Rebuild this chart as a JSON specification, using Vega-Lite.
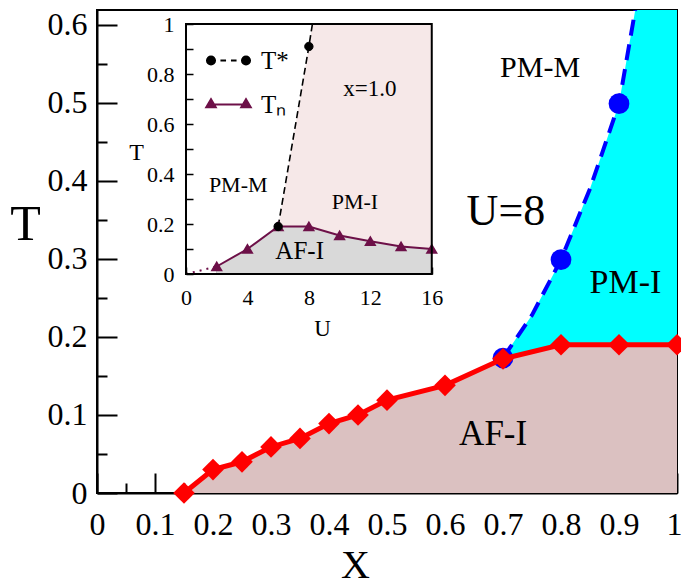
{
  "$schema": "https://vega.github.io/schema/vega-lite/v6.json",
  "width": 580,
  "height": 483,
  "autosize": {"type": "none"},
  "padding": {"left": 97, "top": 10, "right": 4, "bottom": 90},
  "background": "white",
  "config": {
    "view": {"stroke": "black", "strokeWidth": 2},
    "font": "Liberation Serif",
    "axis": {"domainColor": "black", "tickColor": "black", "labelColor": "black", "titleColor": "black", "labelFont": "Liberation Serif", "titleFont": "Liberation Serif", "titleFontWeight": "normal", "grid": false, "labelExpr": "format(datum.value, '~g')"},
    "text": {"font": "Liberation Serif", "color": "black"},
    "legend": {"labelFont": "Liberation Serif", "labelColor": "black"}
  },
  "datasets": {
    "tn_main": [
      {"x": 0.15, "T": 0.0}, {"x": 0.2, "T": 0.03}, {"x": 0.25, "T": 0.04}, {"x": 0.3, "T": 0.059},
      {"x": 0.35, "T": 0.07}, {"x": 0.4, "T": 0.089}, {"x": 0.45, "T": 0.1}, {"x": 0.5, "T": 0.119},
      {"x": 0.6, "T": 0.138}, {"x": 0.7, "T": 0.172}, {"x": 0.8, "T": 0.19}, {"x": 0.9, "T": 0.19}, {"x": 1.0, "T": 0.19}
    ],
    "tstar_main": [{"x": 0.7, "T": 0.173}, {"x": 0.8, "T": 0.299}, {"x": 0.9, "T": 0.499}],
    "tstar_curve": [
      {"x": 0.7, "T": 0.173}, {"x": 0.75, "T": 0.228}, {"x": 0.8, "T": 0.299}, {"x": 0.85, "T": 0.39},
      {"x": 0.9, "T": 0.499}, {"x": 0.928, "T": 0.619}
    ],
    "pmi_main": [
      {"x": 0.7, "T": 0.173}, {"x": 0.75, "T": 0.228}, {"x": 0.8, "T": 0.299}, {"x": 0.85, "T": 0.39},
      {"x": 0.9, "T": 0.499}, {"x": 0.928, "T": 0.619}, {"x": 1.0, "T": 0.619}
    ],
    "tn_inset": [
      {"U": 2, "T": 0.03, "series": "T_N"}, {"U": 4, "T": 0.1, "series": "T_N"}, {"U": 6, "T": 0.19, "series": "T_N"},
      {"U": 8, "T": 0.19, "series": "T_N"}, {"U": 10, "T": 0.154, "series": "T_N"}, {"U": 12, "T": 0.131, "series": "T_N"},
      {"U": 14, "T": 0.11, "series": "T_N"}, {"U": 16, "T": 0.1, "series": "T_N"}
    ],
    "tn_inset_low": [{"U": 0, "T": 0}, {"U": 2, "T": 0.03}],
    "tstar_inset": [{"U": 6, "T": 0.19}, {"U": 8, "T": 0.91}, {"U": 8.23, "T": 1.0}],
    "tstar_inset_pts": [{"U": 6, "T": 0.19, "series": "T*"}, {"U": 8, "T": 0.91, "series": "T*"}],
    "pmi_inset": [{"U": 6, "T": 0.19}, {"U": 8, "T": 0.91}, {"U": 8.23, "T": 1.0}, {"U": 16, "T": 1.0}],
    "frame_inset": [{"U0": 0, "U1": 16, "T0": 0, "T1": 1}]
  },
  "layer": [
    {
      "encoding": {
        "x": {"field": "x", "type": "quantitative", "scale": {"domain": [0, 1], "nice": false, "zero": false}, "axis": null},
        "y": {"field": "T", "type": "quantitative", "scale": {"domain": [0, 0.619], "nice": false, "zero": false}, "axis": null}
      },
      "layer": [
        {
          "data": {"name": "pmi_main"},
          "mark": {"type": "area", "fill": "#00ffff", "clip": true},
          "encoding": {"y2": {"datum": 0}}
        },
        {
          "data": {"name": "tn_main"},
          "mark": {"type": "area", "fill": "#dbc1c1"},
          "encoding": {
            "x": {"field": "x", "type": "quantitative", "scale": {"domain": [0, 1], "nice": false, "zero": false},
              "axis": {"orient": "bottom", "values": [0, 0.1, 0.2, 0.3, 0.4, 0.5, 0.6, 0.7, 0.8, 0.9], "tickSize": -20, "tickWidth": 2, "domainWidth": 2, "labelFontSize": 32, "labelPadding": 36, "labelFlush": false, "labelOverlap": false,
                "title": "X", "titleFontSize": 40, "titleX": 258, "titleY": 52, "titleBaseline": "top", "titleAlign": "center"}},
            "y": {"field": "T", "type": "quantitative", "scale": {"domain": [0, 0.619], "nice": false, "zero": false},
              "axis": {"orient": "left", "values": [0, 0.1, 0.2, 0.3, 0.4, 0.5, 0.6], "tickSize": -20, "tickWidth": 2, "domainWidth": 2, "labelFontSize": 32, "labelPadding": 30, "labelFlush": false, "labelOverlap": false,
                "title": "T", "titleFontSize": 50, "titleAngle": 0, "titleX": -72, "titleY": 214, "titleAlign": "center", "titleBaseline": "middle"}},
            "y2": {"datum": 0}
          }
        },
        {
          "data": {"name": "tstar_curve"},
          "mark": {"type": "line", "stroke": "#0000ff", "strokeWidth": 4, "strokeDash": [16, 9], "clip": true},
          "encoding": {
            "x": {"field": "x", "type": "quantitative", "scale": {"domain": [0, 1], "nice": false, "zero": false},
              "axis": {"orient": "bottom", "values": [0.05, 0.15, 0.25, 0.35, 0.45, 0.55, 0.65, 0.75, 0.85, 0.95], "tickSize": -10, "tickWidth": 2, "domain": false, "labels": false, "title": null}},
            "y": {"field": "T", "type": "quantitative", "scale": {"domain": [0, 0.619], "nice": false, "zero": false},
              "axis": {"orient": "left", "values": [0.05, 0.15, 0.25, 0.35, 0.45, 0.55], "tickSize": -10, "tickWidth": 2, "domain": false, "labels": false, "title": null}}
          }
        },
        {
          "data": {"name": "tstar_main"},
          "mark": {"type": "point", "shape": "circle", "filled": true, "fill": "#0000ff", "opacity": 1, "size": 430},
          "encoding": {
            "x": {"field": "x", "type": "quantitative", "scale": {"domain": [0, 1], "nice": false, "zero": false},
              "axis": {"orient": "bottom", "values": [1], "tickSize": -20, "tickWidth": 2, "domain": false, "labelFontSize": 32, "labelPadding": 36, "labelFlush": false, "labelAlign": "right", "labelOffset": 5, "title": null}}
          }
        },
        {
          "data": {"name": "tn_main"},
          "mark": {"type": "line", "stroke": "#ff0000", "strokeWidth": 5}
        },
        {
          "data": {"name": "tn_main"},
          "mark": {"type": "point", "shape": "diamond", "filled": true, "fill": "#ff0000", "opacity": 1, "size": 470}
        },
        {
          "data": {"values": [{"x": 0.764, "T": 0.545, "label": "PM-M"}]},
          "mark": {"type": "text", "fontSize": 30, "align": "center", "baseline": "middle"},
          "encoding": {"text": {"field": "label"}}
        },
        {
          "data": {"values": [{"x": 0.705, "T": 0.36, "label": "U=8"}]},
          "mark": {"type": "text", "fontSize": 44, "align": "center", "baseline": "middle"},
          "encoding": {"text": {"field": "label"}}
        },
        {
          "data": {"values": [{"x": 0.911, "T": 0.269, "label": "PM-I"}]},
          "mark": {"type": "text", "fontSize": 34, "align": "center", "baseline": "middle"},
          "encoding": {"text": {"field": "label"}}
        },
        {
          "data": {"values": [{"x": 0.683, "T": 0.076, "label": "AF-I"}]},
          "mark": {"type": "text", "fontSize": 35, "align": "center", "baseline": "middle"},
          "encoding": {"text": {"field": "label"}}
        }
      ],
      "resolve": {"axis": {"x": "independent", "y": "independent"}}
    },
    {
      "encoding": {
        "x": {"field": "U", "type": "quantitative", "scale": {"domain": [-5.794, 31.966], "nice": false, "zero": false}, "axis": null},
        "y": {"field": "T", "type": "quantitative", "scale": {"domain": [-0.876, 1.056], "nice": false, "zero": false}, "axis": null}
      },
      "layer": [
        {
          "data": {"name": "pmi_inset"},
          "mark": {"type": "area", "fill": "#f6e8e8"},
          "encoding": {"y2": {"datum": 0}}
        },
        {
          "data": {"name": "tn_inset"},
          "mark": {"type": "area", "fill": "#d9d9d9"},
          "encoding": {
            "x": {"field": "U", "type": "quantitative", "scale": {"domain": [-5.794, 31.966], "nice": false, "zero": false},
              "axis": {"orient": "bottom", "offset": -219, "values": [0, 4, 8, 12, 16], "domain": false, "tickSize": -7, "tickWidth": 1.5, "labelFontSize": 22, "labelPadding": 20, "labelFlush": false, "labelOverlap": false,
                "title": "U", "titleFontSize": 23, "titleX": 225, "titleY": 54, "titleAlign": "center", "titleBaseline": "middle"}},
            "y": {"field": "T", "type": "quantitative", "scale": {"domain": [-0.876, 1.056], "nice": false, "zero": false},
              "axis": {"orient": "left", "offset": -89, "values": [0, 0.2, 0.4, 0.6, 0.8, 1], "domain": false, "tickSize": -7, "tickWidth": 1.5, "labelFontSize": 22, "labelPadding": 19, "labelFlush": false, "labelOverlap": false,
                "title": "T", "titleFontSize": 24, "titleAngle": 0, "titleX": -50, "titleY": 142, "titleAlign": "center", "titleBaseline": "middle"}},
            "y2": {"datum": 0}
          }
        },
        {
          "data": {"name": "tn_inset_low"},
          "mark": {"type": "line", "stroke": "#6d1048", "strokeWidth": 2, "strokeDash": [2, 5]},
          "encoding": {
            "x": {"field": "U", "type": "quantitative", "scale": {"domain": [-5.794, 31.966], "nice": false, "zero": false},
              "axis": {"orient": "bottom", "offset": -219, "values": [2, 6, 10, 14], "domain": false, "tickSize": -7, "tickWidth": 1.5, "labels": false, "title": null}},
            "y": {"field": "T", "type": "quantitative", "scale": {"domain": [-0.876, 1.056], "nice": false, "zero": false},
              "axis": {"orient": "left", "offset": -89, "values": [0.1, 0.3, 0.5, 0.7, 0.9], "domain": false, "tickSize": -7, "tickWidth": 1.5, "labels": false, "title": null}}
          }
        },
        {
          "data": {"name": "tn_inset"},
          "mark": {"type": "line", "stroke": "#6d1048", "strokeWidth": 2}
        },
        {
          "data": {"name": "tstar_inset"},
          "mark": {"type": "line", "stroke": "black", "strokeWidth": 1.6, "strokeDash": [7, 4]}
        },
        {
          "data": {"name": "tn_inset"},
          "mark": {"type": "point", "shape": "triangle-up", "filled": true, "opacity": 1, "size": 80, "stroke": "#6d1048", "strokeWidth": 2},
          "encoding": {
            "color": {"field": "series", "type": "nominal", "scale": {"domain": ["T_N"], "range": ["#6d1048"]},
              "legend": {"orient": "none", "legendX": 113, "legendY": 76, "title": null, "padding": 0, "symbolSize": 1225, "labelFontSize": 25, "labelOffset": 14,
                "labelExpr": "'Tₙ'",
                "symbolType": "M-1,0L1,0M-1.27,0.16L-0.73,0.16L-1,-0.3ZM0.73,0.16L1.27,0.16L1,-0.3Z",
                "symbolStrokeWidth": 2, "symbolStrokeColor": "#6d1048", "symbolFillColor": "#6d1048", "symbolOpacity": 1}}
          }
        },
        {
          "data": {"name": "tstar_inset_pts"},
          "mark": {"type": "point", "shape": "circle", "filled": true, "opacity": 1, "size": 70, "stroke": "black", "strokeWidth": 1},
          "encoding": {
            "color": {"field": "series", "type": "nominal", "scale": {"domain": ["T*"], "range": ["black"]},
              "legend": {"orient": "none", "legendX": 113, "legendY": 32, "title": null, "padding": 0, "symbolSize": 1225, "labelFontSize": 25, "labelOffset": 14,
                "labelExpr": "'T*'",
                "symbolType": "M-1,0L-0.72,0M-0.46,0L-0.14,0M0.14,0L0.46,0M0.72,0L1,0M-1.23,0A0.23,0.23 0 1,0 -0.77,0A0.23,0.23 0 1,0 -1.23,0ZM0.77,0A0.23,0.23 0 1,0 1.23,0A0.23,0.23 0 1,0 0.77,0Z",
                "symbolStrokeWidth": 2, "symbolStrokeColor": "black", "symbolFillColor": "black", "symbolOpacity": 1}}
          }
        },
        {
          "data": {"name": "frame_inset"},
          "mark": {"type": "rect", "fill": null, "fillOpacity": 0, "stroke": "black", "strokeWidth": 2},
          "encoding": {
            "x": {"field": "U0", "type": "quantitative", "scale": {"domain": [-5.794, 31.966], "nice": false, "zero": false}, "axis": null},
            "x2": {"field": "U1"},
            "y": {"field": "T0", "type": "quantitative", "scale": {"domain": [-0.876, 1.056], "nice": false, "zero": false}, "axis": null},
            "y2": {"field": "T1"}
          }
        },
        {
          "data": {"values": [{"U": 11.97, "T": 0.74, "label": "x=1.0"}]},
          "mark": {"type": "text", "fontSize": 23, "align": "center", "baseline": "middle"},
          "encoding": {"text": {"field": "label"}}
        },
        {
          "data": {"values": [{"U": 3.4, "T": 0.356, "label": "PM-M"}]},
          "mark": {"type": "text", "fontSize": 22, "align": "center", "baseline": "middle"},
          "encoding": {"text": {"field": "label"}}
        },
        {
          "data": {"values": [{"U": 11.0, "T": 0.288, "label": "PM-I"}]},
          "mark": {"type": "text", "fontSize": 22, "align": "center", "baseline": "middle"},
          "encoding": {"text": {"field": "label"}}
        },
        {
          "data": {"values": [{"U": 7.4, "T": 0.094, "label": "AF-I"}]},
          "mark": {"type": "text", "fontSize": 25, "align": "center", "baseline": "middle"},
          "encoding": {"text": {"field": "label"}}
        }
      ],
      "resolve": {"axis": {"x": "independent", "y": "independent"}, "scale": {"color": "independent"}}
    }
  ],
  "resolve": {"scale": {"x": "independent", "y": "independent"}, "axis": {"x": "independent", "y": "independent"}}
}
